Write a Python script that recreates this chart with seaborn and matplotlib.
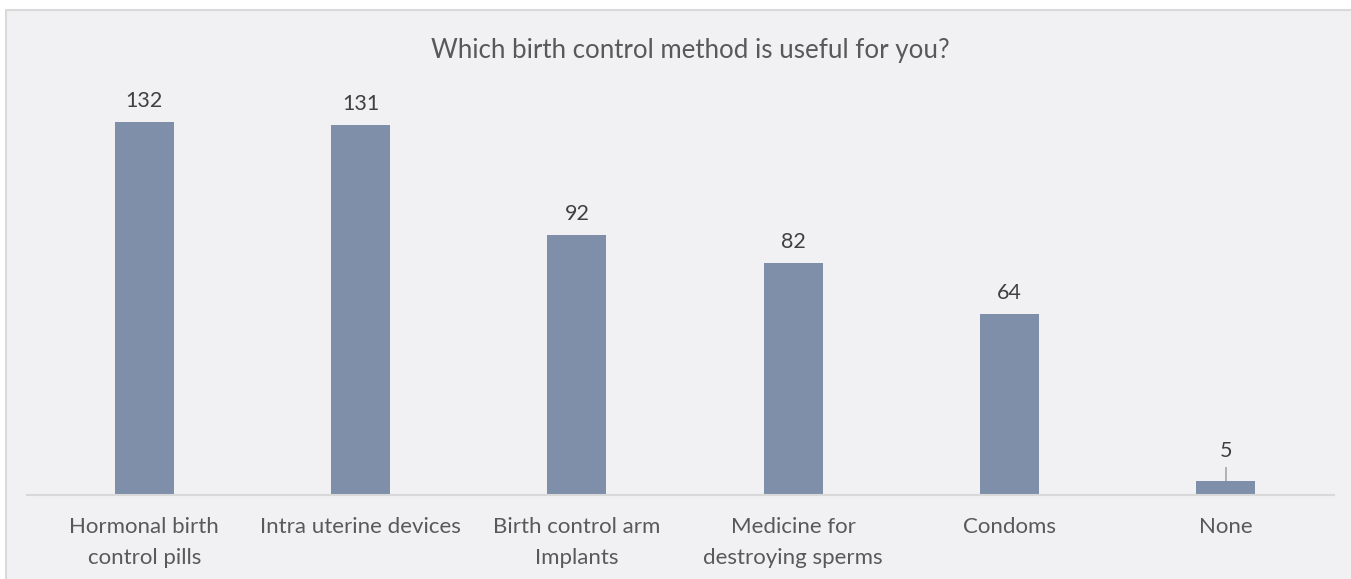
import matplotlib
matplotlib.use("Agg")
import matplotlib.pyplot as plt
import seaborn as sns
import pandas as pd
from matplotlib.patches import Rectangle

categories = [
    "Hormonal birth\ncontrol pills",
    "Intra uterine devices",
    "Birth control arm\nImplants",
    "Medicine for\ndestroying sperms",
    "Condoms",
    "None",
]
responses = [132, 131, 92, 82, 64, 5]
title = "Which birth control method is useful for you?"

sns.set_theme(style="white")
plt.rcParams["font.family"] = ["Lato", "DejaVu Sans"]

W, H = 1351, 579
fig = plt.figure(figsize=(W / 100, H / 100), dpi=100, facecolor="white")

# chart panel background with thin border
panel = Rectangle((6 / W, -0.05), 1.1, 1 - 10 / H + 0.05, transform=fig.transFigure,
                  facecolor="#F1F1F3", edgecolor="#D9D9D9", linewidth=1.5, zorder=-10)
fig.patches.append(panel)

ax_left, ax_right = 27 / W, 1334 / W
ax_bottom = 84 / H
ymax = 140
px_per_unit = 2.826
ax_height = ymax * px_per_unit / H
ax = fig.add_axes([ax_left, ax_bottom, ax_right - ax_left, ax_height])
ax.set_facecolor("none")
ax.set_zorder(1)

df = pd.DataFrame({"method": categories, "count": responses})
sns.barplot(data=df, x="method", y="count", color="#7F8FA9", width=0.273,
            saturation=1, linewidth=0, ax=ax, zorder=2)

ax.set_xlim(-0.542, 5.5)
ax.set_ylim(0, ymax)
ax.set_xlabel("")
ax.set_ylabel("")
ax.set_yticks([])
for s in ["top", "left", "right"]:
    ax.spines[s].set_visible(False)
ax.spines["bottom"].set_color("#D9D9D9")
ax.spines["bottom"].set_linewidth(1.5)
ax.tick_params(axis="x", length=0, pad=16, labelsize=16, labelcolor="#595959")
for lbl in ax.get_xticklabels():
    lbl.set_linespacing(1.65)

# value labels above each bar
for i, v in enumerate(responses):
    if v < 15:
        ax.plot([i, i], [v, v + 14 / px_per_unit], color="#A6A6A6", lw=1.2,
                solid_capstyle="butt")
        ax.text(i, v + 24 / px_per_unit, f"{v}", ha="center", va="baseline",
                fontsize=15.5, color="#404040")
    else:
        ax.text(i, v + 15 / px_per_unit, f"{v}", ha="center", va="baseline",
                fontsize=15.5, color="#404040")

fig.text(690 / W, 1 - 58 / H, title, ha="center", va="baseline", fontsize=18.6,
         color="#595959")

fig.savefig("out.png", dpi=100, facecolor="white")
